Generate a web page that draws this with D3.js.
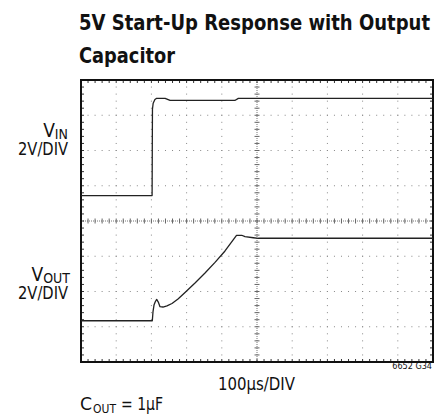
<!DOCTYPE html>
<html>
<head>
<meta charset="utf-8">
<script src="https://cdn.jsdelivr.net/npm/d3@7"></script>
<style>
  body { margin: 0; background: #fff; }
  text { font-family: "Liberation Sans Narrow", "DejaVu Sans Condensed", "Arial Narrow", sans-serif; fill: #111; }
</style>
</head>
<body>
<script>
// time in µs, volts per channel
const vinTime = [0, 202, 202.5, 203, 205, 210, 215, 239, 253, 437, 447, 1000];
const vinVolts = [0, 0, 2.6, 4.9, 5.24, 5.45, 5.52, 5.52, 5.40, 5.40, 5.52, 5.52];
const voutTime = [0, 202.6, 204.5, 207.4, 211, 215, 219.6, 224.4, 233, 244.3, 258.5, 275.6, 295.5, 323.9, 352.3, 380.7, 409.1, 431.8, 441.8, 456.5, 465.9, 489.5, 503.7, 1000];
const voutVolts = [0, 0, 0.50, 0.89, 1.08, 1.21, 1.06, 0.80, 0.78, 0.84, 0.98, 1.23, 1.60, 2.14, 2.71, 3.31, 3.96, 4.58, 4.85, 4.85, 4.77, 4.71, 4.68, 4.68];
const vinOffset = 4.72;   // divisions
const voutOffset = 1.17;
const voltsPerDiv = 2;

const W = 443, H = 415;
const pLeft = 81, pRight = 433, pTop = 80, pBottom = 362;
const xDivs = 10, yDivs = 8, minor = 5;

const svg = d3.select('body').append('svg')
    .attr('width', W)
    .attr('height', H);

const x = d3.scaleLinear().domain([0, 1000]).range([pLeft, pRight]);
const y = d3.scaleLinear().domain([0, yDivs]).range([pBottom, pTop]);
const xd = d3.scaleLinear().domain([0, xDivs]).range([pLeft, pRight]);

// title
svg.append('text')
    .attr('x', 79).attr('y', 30)
    .attr('textLength', 351).attr('lengthAdjust', 'spacingAndGlyphs')
    .style('font-size', '22px').style('font-weight', 'bold')
    .text('5V Start-Up Response with Output');
svg.append('text')
    .attr('x', 79).attr('y', 63)
    .attr('textLength', 96).attr('lengthAdjust', 'spacingAndGlyphs')
    .style('font-size', '22px').style('font-weight', 'bold')
    .text('Capacitor');

const grid = svg.append('g');

// dotted grid at every minor step
for (let i = 1; i < xDivs; i++) {
    if (i === xDivs / 2) continue;
    for (let j = 1; j < yDivs * minor; j++) {
        grid.append('rect')
            .attr('x', xd(i) - 0.5).attr('y', y(j / minor) - 0.5)
            .attr('width', 1).attr('height', 1).attr('fill', '#888');
    }
}
for (let j = 1; j < yDivs; j++) {
    if (j === yDivs / 2) continue;
    for (let i = 1; i < xDivs * minor; i++) {
        grid.append('rect')
            .attr('x', xd(i / minor) - 0.5).attr('y', y(j) - 0.5)
            .attr('width', 1).attr('height', 1).attr('fill', '#888');
    }
}

// center lines with ticks
grid.append('line')
    .attr('x1', pLeft).attr('x2', pRight).attr('y1', y(yDivs / 2)).attr('y2', y(yDivs / 2))
    .attr('stroke', '#777').attr('stroke-dasharray', '1,1');
grid.append('line')
    .attr('x1', xd(xDivs / 2)).attr('x2', xd(xDivs / 2)).attr('y1', pTop).attr('y2', pBottom)
    .attr('stroke', '#777').attr('stroke-dasharray', '1,1');
for (let i = 1; i < xDivs * minor; i++) {
    const cx = xd(i / minor);
    grid.append('line').attr('x1', cx).attr('x2', cx)
        .attr('y1', y(yDivs / 2) - 2.5).attr('y2', y(yDivs / 2) + 2.5).attr('stroke', '#666');
    grid.append('line').attr('x1', cx).attr('x2', cx)
        .attr('y1', pTop).attr('y2', pTop + 3).attr('stroke', '#333');
    grid.append('line').attr('x1', cx).attr('x2', cx)
        .attr('y1', pBottom).attr('y2', pBottom - 3).attr('stroke', '#333');
}
for (let j = 1; j < yDivs * minor; j++) {
    const cy = y(j / minor);
    grid.append('line').attr('y1', cy).attr('y2', cy)
        .attr('x1', xd(xDivs / 2) - 2.5).attr('x2', xd(xDivs / 2) + 2.5).attr('stroke', '#666');
    grid.append('line').attr('y1', cy).attr('y2', cy)
        .attr('x1', pLeft).attr('x2', pLeft + 3).attr('stroke', '#333');
    grid.append('line').attr('y1', cy).attr('y2', cy)
        .attr('x1', pRight).attr('x2', pRight - 3).attr('stroke', '#333');
}

// frame
svg.append('rect')
    .attr('x', pLeft).attr('y', pTop)
    .attr('width', pRight - pLeft).attr('height', pBottom - pTop)
    .attr('fill', 'none').attr('stroke', '#111').attr('stroke-width', 2);

// traces
const line = d3.line().x(d => x(d[0])).y(d => y(d[1]));
const vin = vinTime.map((t, i) => [t, vinOffset + vinVolts[i] / voltsPerDiv]);
const vout = voutTime.map((t, i) => [t, voutOffset + voutVolts[i] / voltsPerDiv]);
[vin, vout].forEach(data => {
    svg.append('path')
        .datum(data)
        .attr('d', line)
        .attr('fill', 'none')
        .attr('stroke', '#222')
        .attr('stroke-width', 1.3)
        .attr('stroke-linejoin', 'round');
});

// channel labels
function chanLabel(sub, xr, yv, yd) {
    const t = svg.append('text')
        .attr('x', xr).attr('y', yv)
        .attr('text-anchor', 'end')
        .style('font-size', '19px');
    t.append('tspan').text('V');
    t.append('tspan').attr('dy', 2).style('font-size', '14px').text(sub);
    svg.append('text')
        .attr('x', 18).attr('y', yd)
        .attr('textLength', 50).attr('lengthAdjust', 'spacingAndGlyphs')
        .style('font-size', '17px')
        .text('2V/DIV');
}
chanLabel('IN', 68, 137, 155);
chanLabel('OUT', 70, 281, 299);

// bottom texts
svg.append('text')
    .attr('x', 218).attr('y', 390)
    .attr('textLength', 77).attr('lengthAdjust', 'spacingAndGlyphs')
    .style('font-size', '18px')
    .text('100µs/DIV');
svg.append('text')
    .attr('x', 432).attr('y', 369)
    .attr('text-anchor', 'end')
    .style('font-size', '9px')
    .text('6652 G34');
svg.append('text')
    .attr('x', 80).attr('y', 410)
    .attr('textLength', 12).attr('lengthAdjust', 'spacingAndGlyphs')
    .style('font-size', '18px').text('C');
svg.append('text')
    .attr('x', 93).attr('y', 413)
    .attr('textLength', 23).attr('lengthAdjust', 'spacingAndGlyphs')
    .style('font-size', '13px').text('OUT');
svg.append('text')
    .attr('x', 121).attr('y', 410)
    .attr('textLength', 42).attr('lengthAdjust', 'spacingAndGlyphs')
    .style('font-size', '18px').text('= 1µF');
</script>
</body>
</html>
